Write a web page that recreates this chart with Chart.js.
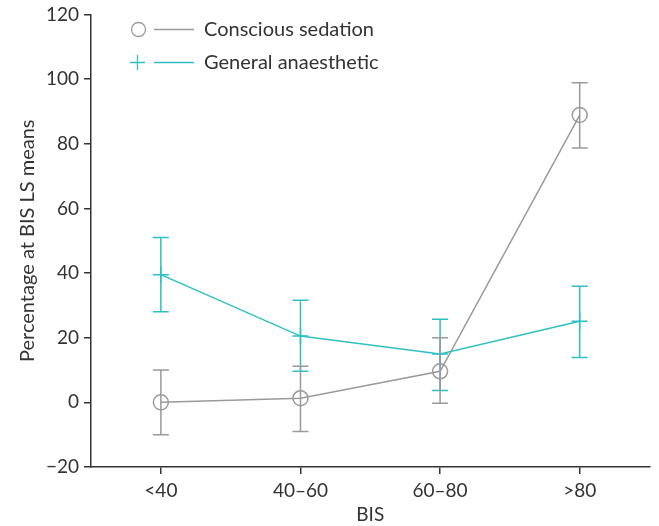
<!DOCTYPE html>
<html>
<head>
<meta charset="utf-8">
<script src="https://cdn.jsdelivr.net/npm/chart.js@4/dist/chart.umd.min.js"></script>
<style>
  html, body { margin: 0; padding: 0; background: #ffffff; }
  #wrap { width: 659px; height: 526px; }
</style>
</head>
<body>
<div id="wrap"><canvas id="c" width="659" height="526"></canvas></div>
<script>
// ---- Data ----
const categories = ['<40', '40–60', '60–80', '>80'];
const seriesNames = ['Conscious sedation', 'General anaesthetic'];
const sedationMean  = [0, 1.3, 9.6, 88.9];
const sedationLower = [-10, -9, -0.3, 78.7];
const sedationUpper = [10, 11.2, 20, 98.9];
const generalMean  = [39.5, 20.5, 15, 25.1];
const generalLower = [28, 9.6, 3.7, 13.9];
const generalUpper = [51, 31.6, 25.7, 35.9];
const yTicks = [-20, 0, 20, 40, 60, 80, 100, 120];

const GRAY = '#9a9a9a';
const TEAL = '#2fc0c2';
const AXIS = '#333333';
const FONT = 'Lato';

const errorBars = {
  id: 'errorBars',
  afterDatasetsDraw(chart) {
    const ctx = chart.ctx;
    const xs = chart.scales.x, ys = chart.scales.y;
    chart.data.datasets.forEach((ds) => {
      const lo = ds.errLower, hi = ds.errUpper;
      if (!lo) return;
      ctx.save();
      ctx.strokeStyle = ds.borderColor;
      ctx.lineWidth = 1.5;
      for (let i = 0; i < ds.data.length; i++) {
        const x = xs.getPixelForValue(i);
        const yl = ys.getPixelForValue(lo[i]);
        const yh = ys.getPixelForValue(hi[i]);
        const w = 8;
        ctx.beginPath();
        ctx.moveTo(x, yl); ctx.lineTo(x, yh);
        ctx.moveTo(x - w, yl); ctx.lineTo(x + w, yl);
        ctx.moveTo(x - w, yh); ctx.lineTo(x + w, yh);
        ctx.stroke();
      }
      ctx.restore();
    });
  }
};

const customLegend = {
  id: 'customLegend',
  afterDraw(chart) {
    const ctx = chart.ctx;
    ctx.save();
    ctx.font = '20px ' + FONT;
    ctx.textBaseline = 'middle';
    ctx.fillStyle = '#333333';
    let y = 29.5;
    ctx.strokeStyle = GRAY; ctx.lineWidth = 1.3;
    ctx.beginPath(); ctx.arc(138.5, y, 7, 0, Math.PI * 2); ctx.stroke();
    ctx.beginPath(); ctx.moveTo(154, y); ctx.lineTo(194, y); ctx.stroke();
    ctx.fillText(seriesNames[0], 204, y);
    y = 62.5;
    ctx.strokeStyle = TEAL;
    ctx.beginPath();
    ctx.moveTo(130, y); ctx.lineTo(145, y);
    ctx.moveTo(137.5, y - 7.5); ctx.lineTo(137.5, y + 7.5);
    ctx.moveTo(154, y); ctx.lineTo(194, y);
    ctx.stroke();
    ctx.fillText(seriesNames[1], 204, y);
    ctx.restore();
  }
};

new Chart(document.getElementById('c'), {
  type: 'line',
  data: {
    labels: categories,
    datasets: [
      {
        label: seriesNames[1],
        data: generalMean,
        errLower: generalLower,
        errUpper: generalUpper,
        borderColor: TEAL,
        borderWidth: 1.5,
        pointStyle: 'cross',
        pointRadius: 8,
        pointBorderWidth: 1.5,
        pointBorderColor: TEAL,
        pointBackgroundColor: TEAL,
        tension: 0
      },
      {
        label: seriesNames[0],
        data: sedationMean,
        errLower: sedationLower,
        errUpper: sedationUpper,
        borderColor: GRAY,
        borderWidth: 1.5,
        pointStyle: 'circle',
        pointRadius: 7.5,
        pointBorderWidth: 1.5,
        pointBorderColor: GRAY,
        pointBackgroundColor: 'rgba(0,0,0,0)',
        tension: 0
      }
    ]
  },
  options: {
    responsive: false,
    animation: false,
    layout: { padding: { left: 18, right: 5, top: 14, bottom: 2 } },
    plugins: { legend: { display: false }, tooltip: { enabled: false } },
    scales: {
      x: {
        type: 'category',
        offset: true,
        grid: { display: true, drawOnChartArea: false, drawTicks: true, tickLength: 7, color: AXIS, lineWidth: 1.5, offset: false },
        border: { display: true, color: AXIS, width: 1.5 },
        ticks: { color: '#333333', font: { family: FONT, size: 19, lineHeight: 1 }, padding: 7 },
        title: { display: true, text: 'BIS', color: '#333333', font: { family: FONT, size: 19, lineHeight: 1 }, padding: { top: -2, bottom: 0 } }
      },
      y: {
        min: -20, max: 120,
        afterBuildTicks(scale) { scale.ticks = yTicks.map(v => ({ value: v })); },
        grid: { display: true, drawOnChartArea: false, drawTicks: true, tickLength: 7, color: AXIS, lineWidth: 1.5 },
        border: { display: true, color: AXIS, width: 1.5 },
        ticks: {
          color: '#333333', font: { family: FONT, size: 19, lineHeight: 1 }, padding: 5,
          callback: v => String(v).replace('-', '−')
        },
        title: { display: true, text: 'Percentage at BIS LS means', color: '#333333', font: { family: FONT, size: 20, lineHeight: 1 }, padding: { top: 0, bottom: 3 } }
      }
    }
  },
  plugins: [errorBars, customLegend]
});
</script>
</body>
</html>
